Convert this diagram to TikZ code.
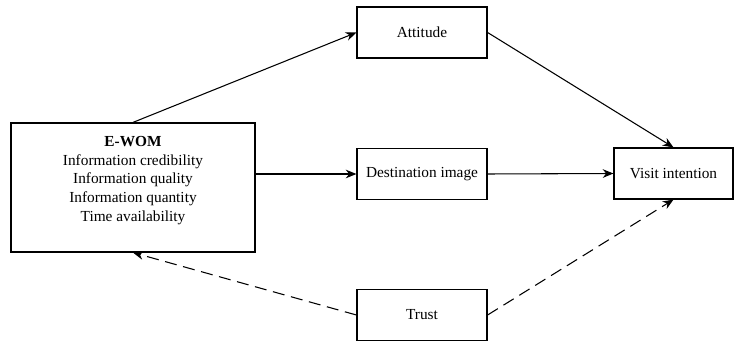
\documentclass[tikz,border=0pt]{standalone}
\usepackage{fontspec}
\setmainfont{Liberation Serif}
\usepackage{tikz}
\usetikzlibrary{arrows.meta}
\tikzset{
  box/.style={draw, line width=0.9pt, minimum width=97.5pt, minimum height=38.25pt,
              inner sep=2pt, font=\fontsize{11.5}{14}\selectfont},
  link/.style={line width=0.8pt, -{Stealth[length=8pt,width=6.5pt]}},
  dashlink/.style={link, dash pattern=on 9pt off 5pt}
}

\begin{document}
\begin{tikzpicture}[x=0.75pt,y=-0.75pt]
  \useasboundingbox (0,0) rectangle (735,341);
  \node[box, minimum width=183pt, minimum height=96.75pt] (ewom) at (133,187.5)
       {\begin{tabular}{@{}c@{}}\textbf{E-WOM}\\
         Information credibility\\
         Information quality\\
         Information quantity\\
         Time availability\\[11pt]\end{tabular}};
  \node[box] (att) at (422,32.5) {Attitude};
  \node[box] (dest) at (422,174) {Destination image};
  \node[box, minimum width=89.25pt] (visit) at (673.5,173.5) {Visit intention};
  \node[box] (trust) at (422,315) {Trust};

  \draw[link] (ewom.north) -- (att.west);
  \draw[link] (att.east) -- (visit.north);
  \draw[link] (dest.west -| ewom.east) -- (dest.west);
  \draw[link] (dest.east) -- (visit.west);
  \draw[dashlink] (trust.west) -- (ewom.south);
  \draw[dashlink] (trust.east) -- (visit.south);
\end{tikzpicture}
\end{document}
